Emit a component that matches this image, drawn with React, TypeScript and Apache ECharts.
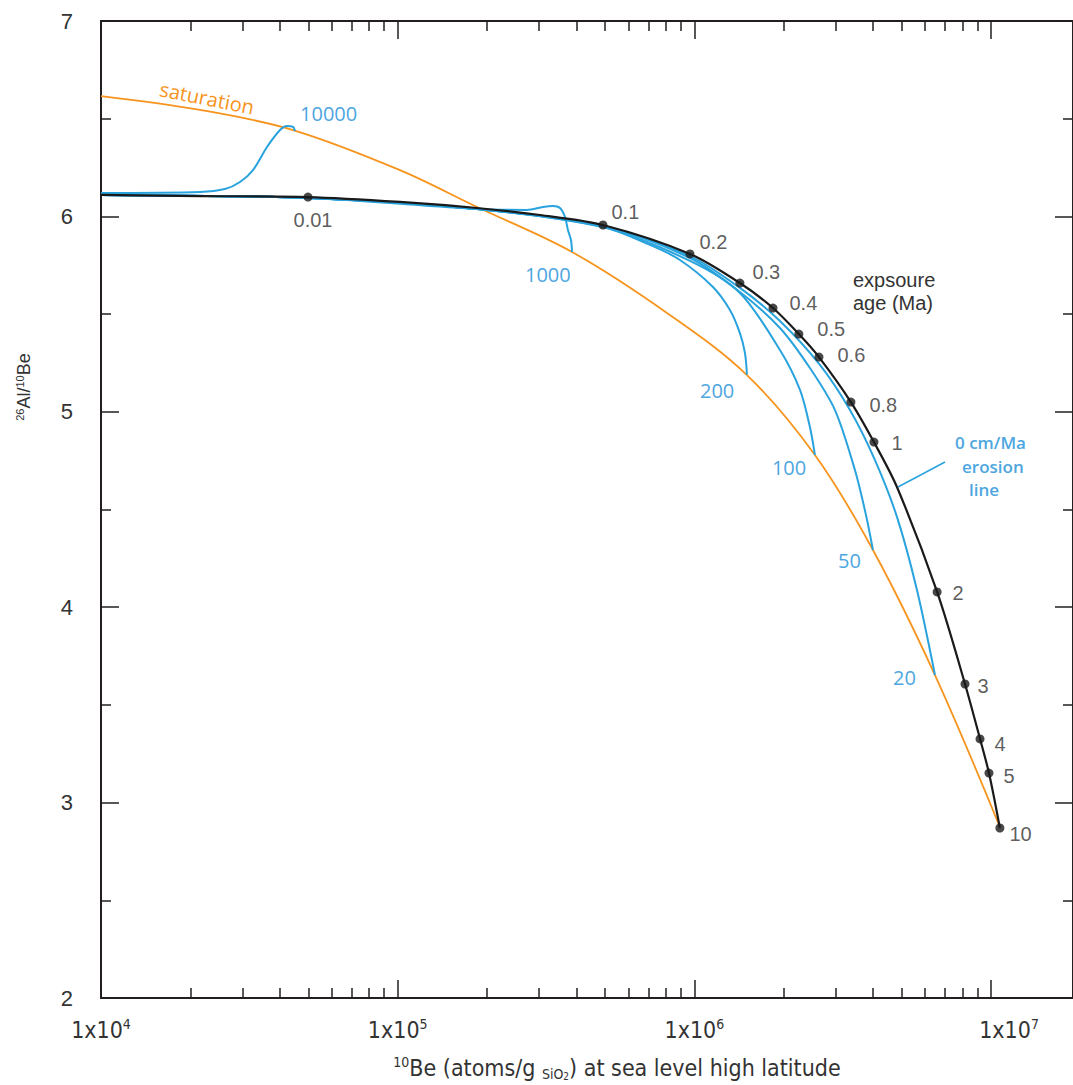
import React, { useEffect, useRef } from 'react';
import * as echarts from 'echarts';

// ---------- data ----------
const X_MIN = 1e4;
const X_MAX = 1.889e7;
const Y_MIN = 2;
const Y_MAX = 7;

const majorXTicks = [1e4, 1e5, 1e6, 1e7];
const minorXTicks = [
  2e4, 3e4, 4e4, 5e4, 6e4, 7e4, 8e4, 9e4,
  2e5, 3e5, 4e5, 5e5, 6e5, 7e5, 8e5, 9e5,
  2e6, 3e6, 4e6, 5e6, 6e6, 7e6, 8e6, 9e6,
];

const saturationBe = [10000, 21570, 44380, 101800, 185100, 386800, 808600, 1504000, 2549000, 3999000, 6471000, 10710000];
const saturationRatio = [6.616, 6.545, 6.442, 6.237, 6.048, 5.818, 5.506, 5.188, 4.779, 4.293, 3.653, 2.875];

const exposureBe = [10000, 21570, 49850, 101800, 185100, 301700, 492000, 966500, 1424000, 1841000, 2250000, 2630000, 3370000, 4030000, 4818000, 6580000, 8170000, 9180000, 9840000, 10710000];
const exposureRatio = [6.11, 6.104, 6.099, 6.074, 6.043, 6.007, 5.956, 5.808, 5.659, 5.531, 5.398, 5.28, 5.05, 4.845, 4.615, 4.078, 3.607, 3.326, 3.151, 2.87];

const ageLabels = ['0.01', '0.1', '0.2', '0.3', '0.4', '0.5', '0.6', '0.8', '1', '2', '3', '4', '5', '10'];
const ageBe = [49850, 492000, 966500, 1424000, 1841000, 2250000, 2630000, 3370000, 4030000, 6580000, 8170000, 9180000, 9840000, 10710000];
const ageRatio = [6.099, 5.956, 5.808, 5.659, 5.531, 5.398, 5.28, 5.05, 4.845, 4.078, 3.607, 3.326, 3.151, 2.87];

const erosionRates = ['10000', '1000', '200', '100', '50', '20'];
const erosion10000Be = [10000, 21570, 26170, 29410, 32530, 36270, 40120, 42360, 44380, 45080];
const erosion10000Ratio = [6.12, 6.125, 6.14, 6.176, 6.237, 6.355, 6.442, 6.463, 6.458, 6.437];
const erosion1000Be = [10000, 49850, 185100, 272800, 308800, 333800, 352400, 366400, 374900, 383800, 386800];
const erosion1000Ratio = [6.11, 6.094, 6.038, 6.033, 6.048, 6.053, 6.043, 5.997, 5.93, 5.879, 5.818];
const erosion200Be = [10000, 49850, 185100, 492000, 708800, 894300, 1155000, 1318000, 1424000, 1481000, 1504000];
const erosion200Ratio = [6.11, 6.094, 6.038, 5.946, 5.854, 5.777, 5.639, 5.521, 5.403, 5.301, 5.19];
const erosion100Be = [10000, 49850, 185100, 492000, 966500, 1424000, 1943000, 2270000, 2452000, 2549000];
const erosion100Ratio = [6.11, 6.094, 6.038, 5.946, 5.772, 5.608, 5.316, 5.112, 4.922, 4.779];
const erosion50Be = [10000, 49850, 185100, 492000, 966500, 1424000, 1943000, 2452000, 2978000, 3477000, 3788000, 3999000];
const erosion50Ratio = [6.11, 6.094, 6.038, 5.951, 5.787, 5.613, 5.429, 5.224, 5.009, 4.702, 4.472, 4.293];
const erosion20Be = [10000, 49850, 185100, 492000, 966500, 1424000, 1943000, 2650000, 3345000, 4062000, 4818000, 5627000, 6471000];
const erosion20Ratio = [6.11, 6.094, 6.038, 5.951, 5.797, 5.634, 5.465, 5.24, 5.009, 4.753, 4.462, 4.088, 3.653];

const erosionBe = [erosion10000Be, erosion1000Be, erosion200Be, erosion100Be, erosion50Be, erosion20Be];
const erosionRatio = [erosion10000Ratio, erosion1000Ratio, erosion200Ratio, erosion100Ratio, erosion50Ratio, erosion20Ratio];

// ---------- style config ----------
const FONT_NARROW = "'Liberation Sans Narrow', 'DejaVu Sans Condensed', 'Liberation Sans', Arial, sans-serif";
const FONT_SANS = "'Liberation Sans', Arial, sans-serif";
const FONT_MYRIAD = "'Open Sans', 'Noto Sans', sans-serif";
const AXIS_COLOR = '#231f20';
const TEXT_COLOR = '#333333';
const ORANGE = '#F7941D';
const BLUE = '#29A3DD';
const BLUE_TEXT = '#4DA6DF';

// label offsets for erosion-curve end labels (px)
const erosionLabelOffsets = [[-3, -18], [-55, 23], [-55, 16], [-51, 13], [-43, 11], [-50, 2]];
// label placement for age markers (px)
const ageLabelPos = ['bottom', 'right', 'right', 'right', 'right', 'right', 'right', 'right', 'right', 'right', 'right', 'right', 'right', 'right'];
const ageLabelOffsets = [[5, 3], [-1, -13], [0, -12], [3, -11], [7, -5], [9, -5], [9, -2], [9, 3], [8, 1], [6, 1], [3, 2], [5, 5], [5, 3], [0, 6]];

const pair = (xs: number[], ys: number[]) => xs.map((x, i) => [x, ys[i]]);

function xAxisDef(position: 'top' | 'bottom', ticks: number[], len: number, showLine: boolean, showLabels: boolean) {
  return {
    type: 'log',
    logBase: 10,
    min: X_MIN,
    max: X_MAX,
    position,
    axisLine: { show: showLine, onZero: false, lineStyle: { color: AXIS_COLOR, width: 2 } },
    axisTick: { show: true, inside: true, length: len, customValues: ticks, lineStyle: { color: AXIS_COLOR, width: 1.5 } },
    axisLabel: showLabels
      ? {
          show: true,
          customValues: majorXTicks,
          margin: 19,
          formatter: (v: number) => {
            const e = Math.round(Math.log10(v));
            return e === 7 ? `{br|1x10}{s|${e}}` : `{b|1x10}{s|${e}}`;
          },
          rich: {
            b: { fontFamily: FONT_NARROW, fontSize: 23, color: TEXT_COLOR, lineHeight: 25 },
            br: { fontFamily: FONT_NARROW, fontSize: 23, color: TEXT_COLOR, lineHeight: 25, padding: [0, 0, 0, 36] },
            s: { fontFamily: FONT_NARROW, fontSize: 14, color: TEXT_COLOR, lineHeight: 14, verticalAlign: 'top' },
          },
        }
      : { show: false },
    splitLine: { show: false },
    minorTick: { show: false },
    minorSplitLine: { show: false },
  };
}

function yAxisDef(position: 'left' | 'right', showLabels: boolean) {
  return {
    type: 'value',
    min: Y_MIN,
    max: Y_MAX,
    interval: 1,
    position,
    axisLine: { show: true, onZero: false, lineStyle: { color: AXIS_COLOR, width: 2 } },
    axisTick: { show: true, inside: true, length: 18, lineStyle: { color: AXIS_COLOR, width: 1.5 } },
    minorTick: { show: true, splitNumber: 2, length: 10, lineStyle: { color: AXIS_COLOR, width: 1.5 } },
    axisLabel: showLabels
      ? { show: true, fontFamily: FONT_SANS, fontSize: 22, color: TEXT_COLOR, margin: 28 }
      : { show: false },
    splitLine: { show: false },
  };
}

export default function App() {
  const ref = useRef<HTMLDivElement>(null);

  useEffect(() => {
    if (!ref.current) return;
    const chart = echarts.init(ref.current, undefined, { renderer: 'svg' });

    const erosionSeries = erosionRates.map((rate, i) => ({
      name: `${rate} cm/Ma`,
      type: 'line',
      xAxisIndex: 0,
      yAxisIndex: 0,
      data: pair(erosionBe[i], erosionRatio[i]),
      smooth: 0.3,
      showSymbol: false,
      symbol: 'none',
      z: 3,
      lineStyle: { color: BLUE, width: 2 },
      endLabel: {
        show: true,
        formatter: rate,
        offset: erosionLabelOffsets[i],
        color: BLUE_TEXT,
        fontFamily: FONT_MYRIAD,
        fontSize: 20,
      },
    }));

    const option = {
      animation: false,
      backgroundColor: '#ffffff',
      grid: { left: 101, right: 0, top: 21, bottom: 87, containLabel: false },
      xAxis: [
        xAxisDef('bottom', majorXTicks, 18, true, true),
        xAxisDef('bottom', minorXTicks, 10, false, false),
        xAxisDef('top', majorXTicks, 18, true, false),
        xAxisDef('top', minorXTicks, 10, false, false),
      ],
      yAxis: [yAxisDef('left', true), yAxisDef('right', false)],
      series: [
        {
          name: 'saturation',
          type: 'line',
          data: pair(saturationBe, saturationRatio),
          smooth: 0.35,
          showSymbol: false,
          symbol: 'none',
          z: 2,
          lineStyle: { color: ORANGE, width: 1.8 },
        },
        ...erosionSeries,
        {
          name: 'exposure',
          type: 'line',
          data: pair(exposureBe, exposureRatio),
          smooth: 0.3,
          showSymbol: false,
          symbol: 'none',
          z: 4,
          lineStyle: { color: '#1a1a1a', width: 2.2 },
        },
        {
          name: 'exposure age (Ma)',
          type: 'scatter',
          z: 5,
          symbolSize: 9,
          itemStyle: { color: '#1a1a1a' },
          data: ageLabels.map((lab, i) => ({
            value: [ageBe[i], ageRatio[i]],
            name: lab,
            label: {
              show: true,
              formatter: lab,
              position: ageLabelPos[i],
              offset: ageLabelOffsets[i],
              distance: 5,
              color: TEXT_COLOR,
              fontFamily: FONT_SANS,
              fontSize: 20,
            },
          })),
        },
      ],
      graphic: [
        {
          type: 'text',
          x: 207,
          y: 98,
          rotation: -0.195,
          style: { text: 'saturation', fill: ORANGE, fontFamily: FONT_MYRIAD, fontSize: 20, align: 'center', verticalAlign: 'middle' },
        },
        {
          type: 'text',
          x: 853,
          y: 268,
          style: { text: 'expsoure\nage (Ma)', fill: TEXT_COLOR, fontFamily: FONT_SANS, fontSize: 20, lineHeight: 23, align: 'left', verticalAlign: 'top' },
        },
        { type: 'line', shape: { x1: 898, y1: 487, x2: 945, y2: 462 }, style: { stroke: BLUE, lineWidth: 1.5 } },
        {
          type: 'text',
          x: 955,
          y: 431,
          style: {
            text: '{a|0 cm/Ma}\n{b|erosion}\n{c|line}',
            align: 'left',
            verticalAlign: 'top',
            fill: BLUE_TEXT,
            rich: {
              a: { fontFamily: FONT_MYRIAD, fontSize: 17, fontWeight: 600, fill: BLUE_TEXT, lineHeight: 23.5 },
              b: { fontFamily: FONT_MYRIAD, fontSize: 17, fontWeight: 600, fill: BLUE_TEXT, lineHeight: 23.5, padding: [0, 0, 0, 7] },
              c: { fontFamily: FONT_MYRIAD, fontSize: 17, fontWeight: 600, fill: BLUE_TEXT, lineHeight: 23.5, padding: [0, 0, 0, 14] },
            },
          },
        },
        {
          type: 'text',
          x: 24,
          y: 387,
          rotation: Math.PI / 2,
          style: {
            text: '{s|26}{t|Al/}{s|10}{t|Be}',
            align: 'center',
            verticalAlign: 'middle',
            fill: TEXT_COLOR,
            rich: {
              t: { fontFamily: FONT_SANS, fontSize: 18, fill: TEXT_COLOR, lineHeight: 20 },
              s: { fontFamily: FONT_SANS, fontSize: 11, fill: TEXT_COLOR, lineHeight: 11, verticalAlign: 'top' },
            },
          },
        },
        {
          type: 'text',
          x: 617,
          y: 1068,
          style: {
            text: '{s|10}{t|Be (atoms/g }{d|SiO}{d2|2}{t|) at sea level high latitude}',
            align: 'center',
            verticalAlign: 'middle',
            fill: TEXT_COLOR,
            rich: {
              t: { fontFamily: FONT_NARROW, fontSize: 23, fill: TEXT_COLOR, lineHeight: 26 },
              s: { fontFamily: FONT_NARROW, fontSize: 14, fill: TEXT_COLOR, lineHeight: 14, verticalAlign: 'top' },
              d: { fontFamily: FONT_NARROW, fontSize: 14, fill: TEXT_COLOR, lineHeight: 16, verticalAlign: 'bottom' },
              d2: { fontFamily: FONT_NARROW, fontSize: 10, fill: TEXT_COLOR, lineHeight: 10, verticalAlign: 'bottom' },
            },
          },
        },
      ],
    };

    chart.setOption(option as any);
    return () => chart.dispose();
  }, []);

  return (
    <div
      ref={ref}
      style={{ position: 'absolute', left: 0, top: 0, width: 1073, height: 1085, background: '#fff' }}
    />
  );
}
